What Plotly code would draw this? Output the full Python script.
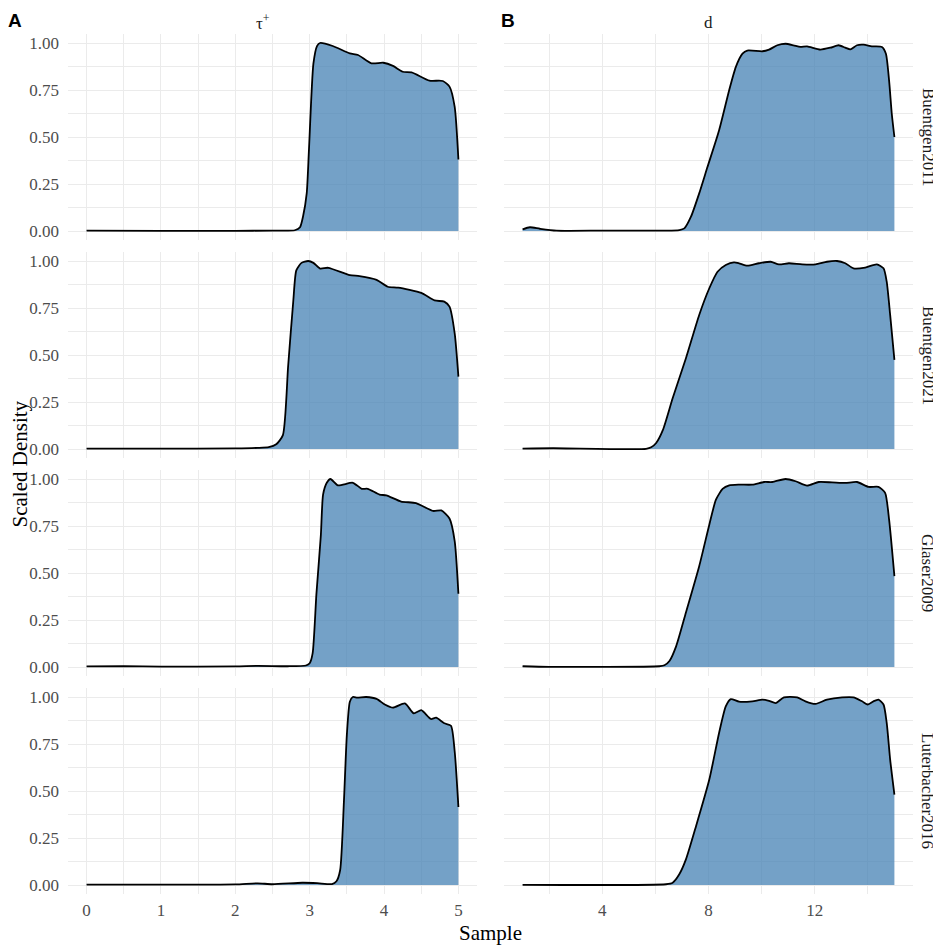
import plotly.graph_objects as go

# The page body has an 8px margin; the figure is sized and laid out so that
# page pixel p corresponds to figure pixel p - OFF.
OFF = 8
W, H = 941 - OFF, 946 - OFF

row_names = ["Buentgen2011", "Buentgen2021", "Glaser2009", "Luterbacher2016"]

# tau+ column (sample value, scaled density)
tau_x_b11 = [0, 1, 2, 2.5, 2.8, 2.87, 2.91, 2.96, 2.99, 3.05, 3.10, 3.14, 3.31, 3.54, 3.65, 3.83, 3.99, 4.12, 4.25, 4.37, 4.61, 4.79, 4.88, 4.95, 5.0]
tau_y_b11 = [0.002, 0.001, 0.001, 0.002, 0.004, 0.02, 0.076, 0.2, 0.43, 0.89, 0.985, 1.0, 0.984, 0.945, 0.936, 0.892, 0.895, 0.878, 0.847, 0.844, 0.80, 0.798, 0.768, 0.66, 0.38]

tau_x_b21 = [0, 1, 2, 2.3, 2.45, 2.55, 2.64, 2.71, 2.78, 2.82, 2.89, 2.98, 3.05, 3.14, 3.25, 3.54, 3.67, 3.90, 4.05, 4.19, 4.50, 4.68, 4.81, 4.88, 4.95, 5.0]
tau_y_b21 = [0.002, 0.002, 0.003, 0.006, 0.01, 0.025, 0.074, 0.44, 0.79, 0.95, 0.99, 1.0, 0.99, 0.96, 0.964, 0.925, 0.92, 0.90, 0.863, 0.858, 0.83, 0.79, 0.784, 0.757, 0.615, 0.385]

tau_x_g09 = [0, 0.5, 1, 2, 2.3, 2.7, 2.95, 3.0, 3.04, 3.09, 3.15, 3.18, 3.23, 3.28, 3.38, 3.58, 3.70, 3.78, 3.94, 4.03, 4.23, 4.43, 4.66, 4.77, 4.88, 4.95, 5.0]
tau_y_g09 = [0.003, 0.004, 0.002, 0.003, 0.006, 0.004, 0.008, 0.02, 0.074, 0.385, 0.70, 0.917, 0.98, 1.0, 0.966, 0.98, 0.948, 0.948, 0.917, 0.913, 0.88, 0.872, 0.83, 0.833, 0.79, 0.67, 0.39]

tau_x_l16 = [0, 1, 2, 2.3, 2.5, 2.9, 3.1, 3.3, 3.36, 3.41, 3.46, 3.50, 3.54, 3.58, 3.64, 3.76, 3.90, 4.01, 4.12, 4.28, 4.40, 4.50, 4.63, 4.70, 4.81, 4.90, 4.95, 5.0]
tau_y_l16 = [0.002, 0.002, 0.003, 0.009, 0.004, 0.012, 0.01, 0.005, 0.02, 0.08, 0.44, 0.80, 0.975, 1.0, 0.997, 1.0, 0.99, 0.96, 0.943, 0.966, 0.913, 0.93, 0.883, 0.89, 0.86, 0.847, 0.71, 0.415]

# d column
d_x_b11 = [1.0, 1.275, 1.65, 2.27, 3.9, 6.9, 7.09, 7.34, 7.65, 7.96, 8.4, 8.78, 9.03, 9.28, 9.46, 10.03, 10.28, 10.59, 10.9, 11.2, 11.46, 11.71, 12.21, 12.59, 12.9, 13.15, 13.34, 13.59, 13.84, 14.15, 14.53, 14.68, 14.8, 14.9, 15.0]
d_y_b11 = [0.009, 0.02, 0.012, 0.002, 0.002, 0.005, 0.014, 0.076, 0.2, 0.34, 0.536, 0.75, 0.873, 0.943, 0.96, 0.956, 0.965, 0.988, 0.996, 0.988, 0.979, 0.982, 0.965, 0.975, 0.988, 0.975, 0.966, 0.988, 0.991, 0.982, 0.979, 0.943, 0.80, 0.625, 0.50]

d_x_b21 = [1.0, 2.15, 5.65, 5.84, 6.03, 6.28, 6.65, 7.15, 7.65, 8.03, 8.34, 8.65, 8.96, 9.15, 9.46, 9.9, 10.34, 10.65, 11.03, 11.53, 12.03, 12.46, 12.84, 13.15, 13.46, 13.9, 14.34, 14.59, 14.71, 14.84, 15.0]
d_y_b21 = [0.002, 0.004, 0.001, 0.009, 0.032, 0.10, 0.27, 0.483, 0.713, 0.855, 0.943, 0.979, 0.993, 0.988, 0.975, 0.988, 0.996, 0.982, 0.988, 0.982, 0.982, 0.996, 1.0, 0.988, 0.961, 0.965, 0.982, 0.961, 0.89, 0.713, 0.474]

d_x_g09 = [1.0, 2.0, 6.15, 6.34, 6.53, 6.78, 7.15, 7.65, 8.03, 8.28, 8.53, 8.78, 9.15, 9.65, 10.09, 10.4, 10.9, 11.28, 11.71, 12.15, 12.65, 13.15, 13.59, 14.03, 14.4, 14.65, 14.8, 15.0]
d_y_g09 = [0.004, 0.001, 0.004, 0.009, 0.032, 0.11, 0.29, 0.536, 0.757, 0.89, 0.947, 0.966, 0.97, 0.97, 0.984, 0.984, 1.0, 0.988, 0.965, 0.984, 0.982, 0.979, 0.984, 0.958, 0.958, 0.926, 0.784, 0.483]

d_x_l16 = [1.0, 6.4, 6.65, 6.9, 7.15, 7.53, 8.03, 8.4, 8.65, 8.84, 9.15, 9.65, 10.03, 10.28, 10.53, 10.84, 11.34, 11.65, 12.03, 12.46, 13.03, 13.46, 13.78, 14.0, 14.21, 14.4, 14.59, 14.71, 14.84, 15.0]
d_y_l16 = [0.001, 0.004, 0.012, 0.057, 0.136, 0.313, 0.561, 0.81, 0.95, 0.989, 0.975, 0.977, 0.986, 0.98, 0.968, 0.998, 0.998, 0.977, 0.963, 0.986, 0.998, 0.998, 0.977, 0.96, 0.977, 0.986, 0.96, 0.862, 0.667, 0.481]

tau_series = [(tau_x_b11, tau_y_b11), (tau_x_b21, tau_y_b21), (tau_x_g09, tau_y_g09), (tau_x_l16, tau_y_l16)]
d_series = [(d_x_b11, d_y_b11), (d_x_b21, d_y_b21), (d_x_g09, d_y_g09), (d_x_l16, d_y_l16)]

y_ticks = [0, 0.25, 0.5, 0.75, 1.0]
tau_ticks = [0, 1, 2, 3, 4, 5]
d_ticks = [4, 8, 12]

SERIF = "Liberation Serif"
GRID = "#EBEBEB"
FILL = "rgba(70,130,180,0.75)"


def fx(px):
    return (px - OFF) / W


def fy(py):
    return 1 - (py - OFF) / H


# layout geometry in page pixels
col_px = [(68, 477), (504, 913)]
row_top = [33.6, 251.6, 469.6, 687.6]
row_h = 206.8

fig = go.Figure()
layout = dict(width=W, height=H, margin=dict(l=0, r=0, t=0, b=0),
              paper_bgcolor="white", plot_bgcolor="white", showlegend=False)

idx = 0
for r in range(4):
    for c in range(2):
        idx += 1
        sfx = "" if idx == 1 else str(idx)
        xs, ys = (tau_series if c == 0 else d_series)[r]
        fig.add_trace(go.Scatter(
            x=xs, y=ys, mode="lines", fill="tozeroy", fillcolor=FILL,
            line=dict(color="black", width=1.8, shape="spline", smoothing=0.6),
            xaxis="x" + sfx, yaxis="y" + sfx, hoverinfo="skip"))
        x0, x1 = col_px[c]
        top = row_top[r]
        bot = top + row_h
        if c == 0:
            xr, tv, mdt = [-0.25, 5.25], tau_ticks, 0.5
        else:
            xr, tv, mdt = [0.3, 15.7], d_ticks, 2
        layout["xaxis" + sfx] = dict(
            domain=[fx(x0), fx(x1)], range=xr, anchor="y" + sfx,
            tickvals=tv, ticktext=[str(v) for v in tv], showticklabels=(r == 3),
            showgrid=True, gridcolor=GRID, gridwidth=1.3, zeroline=False, showline=False,
            ticks="", ticklabelstandoff=4,
            minor=dict(dtick=mdt, tick0=0, showgrid=True, gridcolor=GRID, gridwidth=0.7),
            tickfont=dict(family=SERIF, size=17, color="#4D4D4D"), fixedrange=True)
        layout["yaxis" + sfx] = dict(
            domain=[fy(bot), fy(top)], range=[-0.05, 1.05], anchor="x" + sfx,
            tickvals=y_ticks, ticktext=[f"{v:.2f}" for v in y_ticks], showticklabels=(c == 0),
            showgrid=True, gridcolor=GRID, gridwidth=1.3, zeroline=False, showline=False,
            ticks="", ticklabelstandoff=8,
            minor=dict(dtick=0.125, tick0=0, showgrid=True, gridcolor=GRID, gridwidth=0.7),
            tickfont=dict(family=SERIF, size=17, color="#4D4D4D"), fixedrange=True)

annotations = []
# column strip labels
annotations.append(dict(text="τ<sup>+</sup>", x=fx(263), y=fy(22),
                        xref="paper", yref="paper", showarrow=False, xanchor="center", yanchor="middle",
                        font=dict(family=SERIF, size=17, color="#1A1A1A")))
annotations.append(dict(text="d", x=fx(708), y=fy(22),
                        xref="paper", yref="paper", showarrow=False, xanchor="center", yanchor="middle",
                        font=dict(family=SERIF, size=17, color="#1A1A1A")))
# row strip labels
for r, name in enumerate(row_names):
    cy = row_top[r] + row_h / 2
    annotations.append(dict(text=name, x=fx(928), y=fy(cy), xref="paper", yref="paper",
                            showarrow=False, textangle=90, xanchor="center", yanchor="middle",
                            font=dict(family=SERIF, size=17, color="#1A1A1A")))
# axis titles (kept just inside the figure edge)
annotations.append(dict(text="Scaled Density", x=fx(19.5), y=fy(464), xref="paper", yref="paper",
                        showarrow=False, textangle=-90, xanchor="center", yanchor="middle",
                        font=dict(family=SERIF, size=21, color="black")))
annotations.append(dict(text="Sample", x=fx(490), y=fy(933), xref="paper", yref="paper",
                        showarrow=False, xanchor="center", yanchor="middle",
                        font=dict(family=SERIF, size=21, color="black")))
# panel tags
annotations.append(dict(text="<b>A</b>", x=fx(15), y=1, xref="paper", yref="paper",
                        showarrow=False, xanchor="center", yanchor="top",
                        font=dict(family="Liberation Sans", size=19, color="black")))
annotations.append(dict(text="<b>B</b>", x=fx(508), y=1, xref="paper", yref="paper",
                        showarrow=False, xanchor="center", yanchor="top",
                        font=dict(family="Liberation Sans", size=19, color="black")))

layout["annotations"] = annotations
fig.update_layout(**layout)
fig.write_html("out.html")
